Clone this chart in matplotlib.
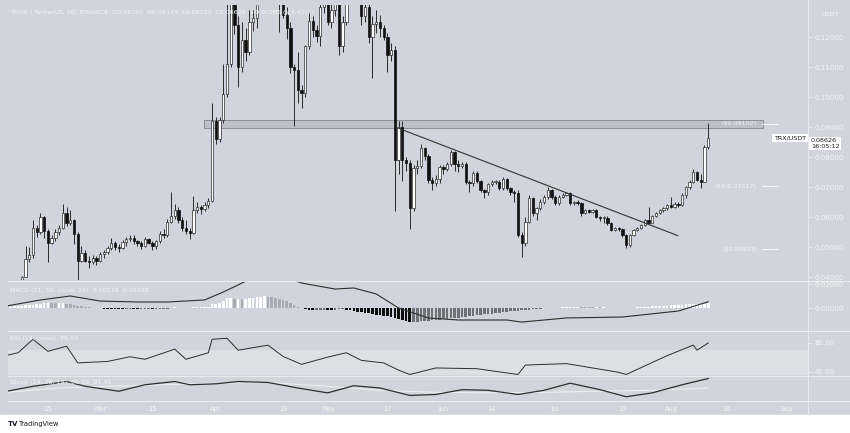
import numpy as np
import pandas as pd
import matplotlib
matplotlib.use('Agg')
import matplotlib.pyplot as plt
import matplotlib.dates as mdates
from matplotlib.ticker import FixedLocator, NullLocator

W, H = 850, 433
BG = '#d1d4dc'
LIGHT = '#f4f5f8'
DARK = '#1c1c1c'

# ---- daily candles TRX/USDT, 2021-02-08 .. 2021-08-11
first_open = 0.0385
closes = [
    # Feb 8-28
    .0400, .0460, .0472, .0565, .0550, .0600, .0555, .0515, .0530, .0550, .0565,
    .0612, .0580, .0590, .0545, .0455, .0480, .0455, .0450, .0465, .0455,
    # Mar
    .0478, .0482, .0497, .0515, .0500, .0498, .0517, .0527, .0530, .0520, .0512,
    .0502, .0527, .0515, .0505, .0520, .0545, .0540, .0585, .0605, .0625, .0590,
    .0565, .0555, .0548, .0625, .0632, .0628, .0640, .0655, .0920,
    # Apr
    .0860, .0925, .1010, .1110, .1600, .1240, .1100, .1190, .1150, .1250, .1265,
    .1350, .1500, .1600, .1500, .1450, .1450, .1330, .1275, .1230, .1100, .1090,
    .1025, .1015, .1170, .1255, .1225, .1205, .1300, .1360,
    # May
    .1250, .1290, .1330, .1170, .1250, .1400, .1450, .1500, .1460, .1270, .1300,
    .1200, .1245, .1250, .1230, .1200, .1140, .1157, .0790, .0900, .0790, .0780,
    .0630, .0765, .0770, .0830, .0805, .0725, .0712, .0727, .0767,
    # Jun
    .0760, .0777, .0817, .0777, .0770, .0777, .0717, .0713, .0747, .0720, .0690,
    .0683, .0710, .0717, .0718, .0697, .0727, .0697, .0683, .0680, .0540, .0513,
    .0583, .0663, .0615, .0629, .0651, .0668, .0690, .0668,
    # Jul
    .0646, .0668, .0673, .0679, .0646, .0651, .0648, .0612, .0623, .0618, .0623,
    .0601, .0596, .0598, .0579, .0557, .0562, .0560, .0540, .0507, .0540, .0557,
    .0562, .0573, .0590, .0581, .0603, .0612, .0623, .0629, .0640,
    # Aug 1-11
    .0635, .0645, .0640, .0673, .0701, .0718, .0751, .0725, .0718, .0834, .08626,
]
highs = [
    .0405, .0505, .0500, .0590, .0575, .0615, .0605, .0560, .0540, .0560, .0575,
    .0645, .0635, .0625, .0595, .0550, .0505, .0490, .0470, .0475, .0470,
    .0485, .0490, .0505, .0530, .0520, .0510, .0525, .0533, .0540, .0540, .0525,
    .0520, .0535, .0530, .0520, .0525, .0555, .0560, .0595, .0685, .0645, .0635,
    .0600, .0590, .0565, .0670, .0650, .0640, .0650, .0665, .0980,
    .0935, .0935, .1110, .1400, .1800, .1700, .1270, .1250, .1230, .1290, .1290,
    .1400, .1650, .1700, .1650, .1550, .1550, .1480, .1340, .1300, .1250, .1110,
    .1150, .1040, .1175, .1285, .1270, .1240, .1330, .1400,
    .1400, .1320, .1380, .1350, .1270, .1500, .1550, .1600, .1550, .1480, .1330,
    .1320, .1270, .1290, .1275, .1240, .1215, .1180, .1170, .0920, .0920, .0800,
    .0790, .0775, .0790, .0845, .0835, .0810, .0735, .0740, .0775,
    .0775, .0785, .0825, .0820, .0790, .0785, .0785, .0725, .0755, .0755, .0725,
    .0695, .0715, .0725, .0725, .0722, .0735, .0730, .0700, .0690, .0690, .0550,
    .0600, .0675, .0668, .0635, .0660, .0675, .0700, .0695,
    .0672, .0675, .0680, .0685, .0682, .0655, .0656, .0650, .0628, .0627, .0628,
    .0626, .0603, .0603, .0602, .0582, .0566, .0566, .0562, .0542, .0545, .0560,
    .0566, .0578, .0595, .0634, .0607, .0616, .0627, .0634, .0645,
    .0668, .0650, .0650, .0680, .0705, .0725, .0760, .0755, .0742, .0840, .09145,
]
lows = [
    .0380, .0400, .0450, .0465, .0535, .0545, .0530, .0450, .0510, .0520, .0540,
    .0560, .0570, .0575, .0510, .0385, .0450, .0450, .0430, .0445, .0440,
    .0450, .0465, .0478, .0490, .0490, .0485, .0495, .0505, .0520, .0510, .0505,
    .0495, .0500, .0510, .0490, .0495, .0515, .0530, .0535, .0580, .0595, .0580,
    .0555, .0545, .0528, .0545, .0615, .0610, .0620, .0630, .0650,
    .0845, .0850, .0915, .1000, .1100, .1210, .1035, .1085, .1120, .1140, .1220,
    .1230, .1330, .1450, .1400, .1350, .1380, .1217, .1265, .1195, .1080, .0905,
    .0980, .0965, .1000, .1160, .1200, .1185, .1170, .1280,
    .1240, .1230, .1270, .1140, .1150, .1240, .1380, .1420, .1400, .1240, .1250,
    .1180, .1065, .1215, .1200, .1190, .1085, .1120, .0620, .0745, .0720, .0755,
    .0560, .0620, .0745, .0765, .0790, .0715, .0690, .0705, .0715,
    .0745, .0755, .0770, .0755, .0750, .0765, .0710, .0685, .0705, .0715, .0685,
    .0665, .0675, .0705, .0710, .0690, .0690, .0690, .0675, .0650, .0535, .0467,
    .0505, .0580, .0605, .0590, .0625, .0645, .0660, .0660,
    .0640, .0640, .0662, .0670, .0640, .0640, .0640, .0605, .0610, .0612, .0612,
    .0598, .0588, .0580, .0575, .0552, .0555, .0552, .0535, .0496, .0500, .0538,
    .0552, .0560, .0570, .0578, .0580, .0600, .0610, .0618, .0625,
    .0630, .0630, .0632, .0638, .0665, .0695, .0715, .0720, .0696, .0716, .08283,
]

# ---- MACD histogram (x1e-3), daily 2021-02-04 .. 2021-08-11
macd_hist = [
    1.0, 1.2, 1.5, 1.8, 2.0, 2.2, 2.5, 2.8, 3.0,
    3.5, 4.0, 4.2, 4.0, 3.8, 3.8, 4.0, 3.6,
    3.2, 2.8, 2.0, 1.5, 1.0, 0.6, 0.3, 0.1,
    -0.3, -0.5, -0.6, -0.7, -0.8, -0.9, -1.0, -1.0, -1.0, -1.1, -1.2, -1.2, -1.1,
    -1.0, -1.2, -1.1, -1.0, -0.8, -0.5,
    0.2, 0.5, 0.4, 0.3, 0.3, 0.2, 0.6, 0.8, 0.9,
    1.0, 1.2, 3.0, 3.5, 4.5, 6.0, 8.0, 8.0, 7.5, 7.6, 7.4, 7.8, 8.2, 8.5, 9.0,
    9.5, 9.6, 9.4,
    9.0, 8.5, 7.5, 6.5, 5.5, 4.0, 2.5,
    1.0, -0.3, -1.0, -1.5, -2.0, -2.0, -1.8, -1.5, -1.6, -1.8, -1.5, -1.2, -1.0,
    -1.5, -2.0,
    -2.5, -3.0, -3.5, -4.0, -4.5, -5.0, -5.5, -6.0, -6.5, -7.0, -7.5, -8.0, -9.0,
    -10.0, -11.0,
    -12.0, -11.8, -11.5, -11.0, -10.8, -10.5, -10.2, -10.0, -9.6, -9.3, -9.0,
    -8.7, -8.4, -8.0, -7.7, -7.4, -7.0, -6.6, -6.2, -5.8, -5.4, -5.0, -4.6, -4.2,
    -3.8, -3.5, -3.2, -2.8, -2.5, -2.2, -1.9, -1.6, -1.3, -1.0, -0.8, -0.6, -0.4,
    -0.3, -0.2, -0.1,
    0.3, 0.5, 0.7, 0.8, 0.9, 1.0, 0.9, 0.8, 0.7, 0.6, 0.6, 0.5, 0.5, 0.4, 0.4,
    0.3, 0.3, 0.3, 0.2, 0.3, 0.4, 0.5, 0.7, 0.9, 1.1, 1.3, 1.5, 1.6, 1.8, 2.0,
    2.2, 2.4, 2.6, 2.8, 3.0, 3.1, 3.3, 3.4, 3.5, 3.6, 3.8,
]

macd_dates = ['2021-02-04', '2021-02-13', '2021-02-21', '2021-03-01', '2021-03-11',
              '2021-03-19', '2021-03-29', '2021-04-03', '2021-04-07', '2021-04-10',
              '2021-04-17', '2021-04-24', '2021-05-03', '2021-05-08', '2021-05-14',
              '2021-05-20', '2021-05-28', '2021-06-05', '2021-06-18', '2021-06-22',
              '2021-07-04', '2021-07-19', '2021-08-03', '2021-08-11']
macd_line = [.0017, .0067, .0100, .0058, .0050, .0050, .0067, .0133, .0192, .0240,
             .0290, .0208, .0158, .0167, .0117, .0000, -.0083, -.0100, -.0100,
             -.0117, -.0083, -.0075, -.0025, .0052]

rsi_dates = ['2021-02-04', '2021-02-07', '2021-02-11', '2021-02-15', '2021-02-20',
             '2021-02-23', '2021-03-03', '2021-03-09', '2021-03-13', '2021-03-21',
             '2021-03-24', '2021-03-30', '2021-03-31', '2021-04-04', '2021-04-07',
             '2021-04-15', '2021-04-19', '2021-04-24', '2021-05-01', '2021-05-06',
             '2021-05-10', '2021-05-16', '2021-05-20', '2021-05-23', '2021-05-30',
             '2021-06-10', '2021-06-21', '2021-06-23', '2021-07-04', '2021-07-18',
             '2021-07-20', '2021-07-31', '2021-08-07', '2021-08-08', '2021-08-11']
rsi_vals = [62.5, 66, 84.5, 68, 75, 52, 54, 60.5, 57, 71, 57, 66, 84.5, 86,
            69.5, 76.5, 61, 50, 60, 66, 55.5, 52, 42, 36, 45, 44, 36, 49, 51,
            39, 36, 62, 76.5, 69.5, 79.53]

stoch_dates = ['2021-02-04', '2021-02-11', '2021-02-20', '2021-02-25', '2021-03-06',
               '2021-03-13', '2021-03-21', '2021-03-25', '2021-04-01', '2021-04-07',
               '2021-04-15', '2021-04-23', '2021-05-01', '2021-05-08', '2021-05-15',
               '2021-05-23', '2021-05-30', '2021-06-06', '2021-06-13', '2021-06-21',
               '2021-06-28', '2021-07-05', '2021-07-13', '2021-07-20', '2021-07-27',
               '2021-08-04', '2021-08-11']
stoch_k = [36.5, 57, 77, 57, 36.5, 63.5, 77, 63.5, 67.5, 77, 73, 50, 29.7, 59.5,
           50, 19, 23, 43, 40.5, 23, 40.5, 70, 43, 13.5, 29.7, 63.5, 89.59]
stoch_d_dates = ['2021-02-04', '2021-02-18', '2021-03-03', '2021-03-17', '2021-04-01',
                 '2021-04-15', '2021-05-01', '2021-05-15', '2021-05-30', '2021-06-13',
                 '2021-06-28', '2021-07-13', '2021-07-27', '2021-08-11']
stoch_d = [32, 50, 57, 63.5, 70, 73, 57, 40.5, 32, 30, 32, 36.5, 40.5, 50]

trend_dates = ['2021-05-19 22:00', '2021-08-02 20:00']
trend_prices = [0.0896, 0.0538]
zone_dates = ['2021-03-28 18:00', '2021-08-25 14:00']
zone_prices = [0.0896, 0.0922]
fib_levels = [0.09102, 0.07017, 0.04933]
fib_names = ['0', '0.5', '1']

tick_dates = ['2021-02-15', '2021-03-01', '2021-03-15', '2021-04-01', '2021-04-19',
              '2021-05-01', '2021-05-17', '2021-06-01', '2021-06-14', '2021-07-01',
              '2021-07-19', '2021-08-01', '2021-08-16', '2021-09-01']
tick_labels = ['15', 'Mar', '15', 'Apr', '19', 'May', '17', 'Jun', '14', 'Jul',
               '19', 'Aug', '16', 'Sep']
price_ticks = [0.04, 0.05, 0.06, 0.07, 0.08, 0.09, 0.10, 0.11, 0.12]

# ---------------------------------------------------------------
days = mdates.date2num(pd.date_range('2021-02-08', periods=len(closes)))
hdays = mdates.date2num(pd.date_range('2021-02-04', periods=len(macd_hist)))
opens = [first_open] + closes[:-1]
d0 = mdates.date2num(pd.Timestamp('2021-02-15'))
xmin, xmax = d0 - 10.7, d0 + 203.75


def tnum(lst):
    return mdates.date2num(pd.to_datetime(lst))


fig = plt.figure(figsize=(W / 100, H / 100), dpi=100)
fig.patch.set_facecolor(BG)


def px_axes(x0, y0, x1, y1):
    ax = fig.add_axes([x0 / W, 1 - y1 / H, (x1 - x0) / W, (y1 - y0) / H])
    ax.set_facecolor(BG)
    for s in ax.spines.values():
        s.set_visible(False)
    ax.set_xlim(xmin, xmax)
    ax.xaxis.set_major_locator(NullLocator())
    ax.yaxis.tick_right()
    ax.tick_params(axis='y', colors=LIGHT, labelsize=5, length=3, width=0.5, pad=2)
    return ax


# price panel
ax = px_axes(8, 5, 808, 280)
ax.set_ylim(0.0390, 0.13067)
ax.yaxis.set_major_locator(FixedLocator(price_ticks))
ax.set_yticklabels(['%.5f' % p for p in price_ticks])

up = [c >= o for o, c in zip(opens, closes)]
ax.vlines(days, lows, highs, color='#2b2b2b', lw=0.7, zorder=2)
bodies = [max(abs(c - o), 0.00025) for o, c in zip(opens, closes)]
bottoms = [min(o, c) for o, c in zip(opens, closes)]
ax.bar(days, bodies, bottom=bottoms, width=0.62,
       color=['#ffffff' if u else '#101010' for u in up],
       edgecolor=['#2b2b2b' if u else '#101010' for u in up], lw=0.5, zorder=3)

zx = tnum(zone_dates)
ax.fill_between(zx, zone_prices[0], zone_prices[1], color='#bdc0c8',
                lw=0, zorder=1)
ax.plot([zx[0], zx[1], zx[1], zx[0], zx[0]],
        [zone_prices[0], zone_prices[0], zone_prices[1], zone_prices[1], zone_prices[0]],
        color='#8c8f96', lw=0.7, zorder=1)
ax.plot(tnum(trend_dates), trend_prices, color='#333333', lw=0.8, zorder=4)

for lv, nm in zip(fib_levels, fib_names):
    ax.text(d0 + 190.1, lv, '%s(%.5f)' % (nm, lv), ha='right', va='center',
            fontsize=4.6, color=LIGHT)
    ax.plot([d0 + 191.4, d0 + 195.7], [lv, lv], color=LIGHT, lw=0.7)

ax.text(0.003, 0.982, 'TRON / TetherUS, 1D, BINANCE  O0.08340  H0.09145  L0.08283  '
        'C0.08626  +0.00285 (+3.42%)', transform=ax.transAxes, fontsize=4.6,
        color=LIGHT, va='top', ha='left')
ax.text(1.0 + 14 / 800, 0.965, 'USDT', transform=ax.transAxes, fontsize=4.6,
        color=LIGHT, ha='left', va='center')
last = closes[-1]
ax.text(0.9975, last, 'TRX/USDT', transform=ax.get_yaxis_transform(), ha='right',
        va='center', fontsize=4.6, color=DARK,
        bbox=dict(boxstyle='square,pad=0.25', fc='white', ec='none'))
ax.text(1.0 + 3 / 800, last, '0.08626\n16:05:12', transform=ax.get_yaxis_transform(),
        ha='left', va='top', fontsize=4.6, color=DARK, linespacing=1.1,
        bbox=dict(boxstyle='square,pad=0.25', fc='white', ec='none'))

# MACD panel
am = px_axes(8, 281, 808, 330)
am.set_ylim(-0.01833, 0.0225)
am.yaxis.set_major_locator(FixedLocator([0.0, 0.02]))
am.set_yticklabels(['0.00000', '0.02000'])
hv = np.array(macd_hist) / 1000
cols = []
for i, v in enumerate(hv):
    prev = hv[i - 1] if i else v
    if v >= 0:
        cols.append('#ffffff' if v >= prev else '#a9acb3')
    else:
        cols.append('#0d0d0d' if v < prev else '#6e7177')
am.bar(hdays, hv, width=0.7, color=cols, lw=0)
am.plot(tnum(macd_dates), macd_line, color='#2e2e2e', lw=0.8)
am.text(0.003, 0.80, 'MACD (21, 50, close, 24)  0.00518  0.00182',
        transform=am.transAxes, fontsize=4.6, color=LIGHT, va='center')

# RSI panel
ar = px_axes(8, 331, 808, 375)
ar.set_ylim(35.3, 96)
ar.axhspan(30, 70, color='#dcdfe6', lw=0)
ar.yaxis.set_major_locator(FixedLocator([40, 80]))
ar.set_yticklabels(['40.00', '80.00'])
ar.plot(tnum(rsi_dates), rsi_vals, color='#2e2e2e', lw=0.7)
ar.text(0.003, 0.84, 'RSI (14, close)  79.53', transform=ar.transAxes,
        fontsize=4.6, color=LIGHT, va='center')

# Stoch panel
ast = px_axes(8, 376, 808, 400)
ast.set_ylim(0, 100)
ast.yaxis.set_major_locator(NullLocator())
ast.plot(tnum(stoch_d_dates), stoch_d, color='#eceef2', lw=0.8)
ast.plot(tnum(stoch_dates), stoch_k, color='#2e2e2e', lw=0.9)
ast.text(0.003, 0.72, 'Stoch (14, 28, 14)  89.59  91.45', transform=ast.transAxes,
         fontsize=4.6, color=LIGHT, va='center')
ast.xaxis.set_major_locator(FixedLocator(tnum(tick_dates)))
ast.set_xticklabels(tick_labels)
ast.tick_params(axis='x', colors=LIGHT, labelsize=4.8, length=0, pad=4)

# separators and frame
for yy in [280.5, 330.5, 375.5, 400.5]:
    fig.add_artist(plt.Line2D([8 / W, 1], [1 - yy / H] * 2, color='#eef0f4', lw=0.6))
fig.add_artist(plt.Line2D([808 / W] * 2, [1 - 415 / H, 1], color='#eef0f4', lw=0.6))
fig.add_artist(plt.Rectangle((0, 0), 1, 18 / H, transform=fig.transFigure,
                             color='white', zorder=-1))
fig.text(8 / W, 1 - 424 / H, 'TV', fontsize=5, fontweight='bold', color='#131722',
         va='center')
fig.text(19 / W, 1 - 424 / H, 'TradingView', fontsize=4.8, color='#131722',
         va='center')

fig.savefig('out.png', dpi=100, facecolor=fig.get_facecolor())
